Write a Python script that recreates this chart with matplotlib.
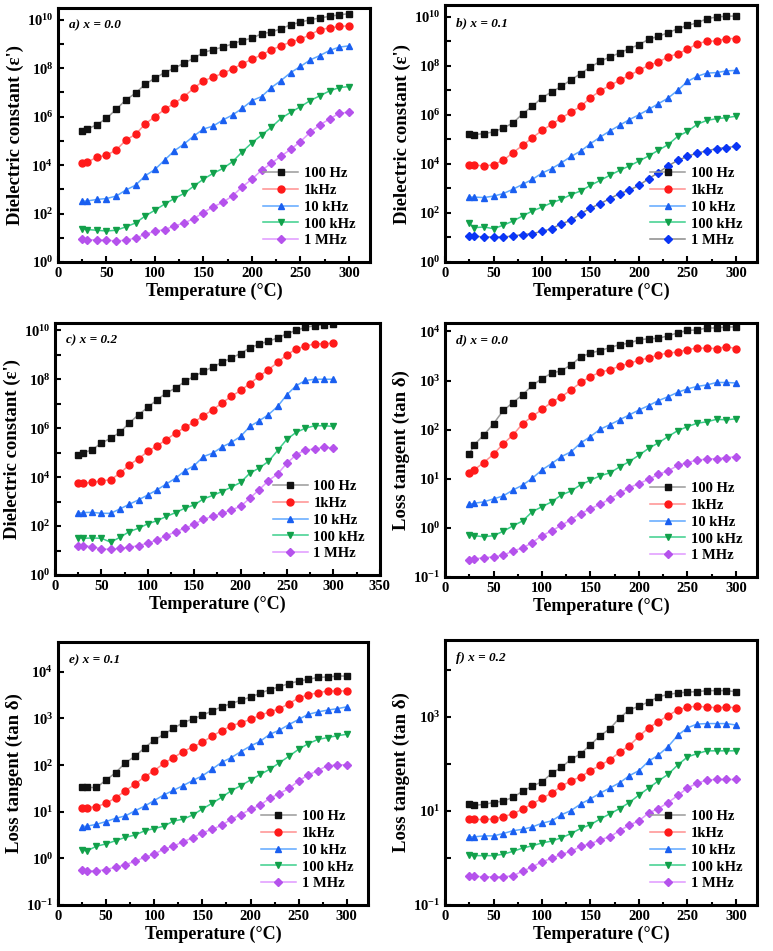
import numpy as np
import matplotlib
matplotlib.use("Agg")
import matplotlib.pyplot as plt
from matplotlib.ticker import MultipleLocator, NullLocator

plt.rcParams['font.family'] = ['Liberation Serif', 'DejaVu Serif']
plt.rcParams['font.weight'] = 'bold'
plt.rcParams['mathtext.fontset'] = 'custom'
plt.rcParams['mathtext.rm'] = 'Liberation Serif:bold'
plt.rcParams['mathtext.bf'] = 'Liberation Serif:bold'
plt.rcParams['mathtext.default'] = 'bf'

# temperatures (°C)
temp = [25, 30, 40, 50, 60, 70, 80, 90, 100, 110, 120, 130, 140, 150, 160,
        170, 180, 190, 200, 210, 220, 230, 240, 250, 260, 270, 280, 290, 300]

freq_labels = ['100 Hz', '1kHz', '10 kHz', '100 kHz', '1 MHz']

# values are log10
# a) dielectric constant, x = 0.0
eps_a_100hz = [5.41, 5.49, 5.66, 5.93, 6.30, 6.69, 6.97, 7.34, 7.59, 7.82, 8.00, 8.21, 8.41, 8.65, 8.76,
               8.87, 9.00, 9.14, 9.24, 9.42, 9.49, 9.63, 9.79, 9.90, 10.0, 10.07, 10.14, 10.20, 10.25]
eps_a_1khz = [4.07, 4.12, 4.32, 4.41, 4.62, 5.03, 5.27, 5.70, 6.00, 6.30, 6.55, 6.83, 7.17, 7.48, 7.63,
              7.79, 7.97, 8.18, 8.37, 8.55, 8.76, 8.92, 9.08, 9.20, 9.38, 9.59, 9.66, 9.72, 9.75]
eps_a_10khz = [2.51, 2.52, 2.58, 2.62, 2.72, 2.97, 3.17, 3.56, 3.82, 4.21, 4.59, 4.87, 5.20, 5.49, 5.61,
               5.86, 6.07, 6.34, 6.66, 6.83, 7.20, 7.49, 7.82, 8.07, 8.34, 8.52, 8.73, 8.87, 8.92]
eps_a_100khz = [1.38, 1.34, 1.31, 1.28, 1.31, 1.45, 1.61, 1.90, 2.14, 2.39, 2.62, 2.83, 3.13, 3.42, 3.66,
                3.86, 4.14, 4.55, 4.92, 5.24, 5.56, 5.93, 6.18, 6.41, 6.66, 6.86, 7.06, 7.20, 7.24]
eps_a_1mhz = [0.94, 0.92, 0.91, 0.90, 0.87, 0.90, 0.99, 1.14, 1.27, 1.34, 1.48, 1.61, 1.79, 2.04, 2.28,
              2.46, 2.73, 3.10, 3.42, 3.79, 4.07, 4.37, 4.65, 4.97, 5.35, 5.66, 5.90, 6.14, 6.18]

# b) dielectric constant, x = 0.1
eps_b_100hz = [5.24, 5.20, 5.24, 5.31, 5.47, 5.67, 6.05, 6.35, 6.71, 6.94, 7.17, 7.44, 7.69, 7.96, 8.19,
               8.37, 8.53, 8.71, 8.87, 9.09, 9.21, 9.36, 9.52, 9.66, 9.76, 9.93, 10.0, 10.03, 10.04]
eps_b_1khz = [3.97, 3.96, 3.92, 3.97, 4.15, 4.46, 4.76, 5.07, 5.37, 5.62, 5.88, 6.12, 6.35, 6.71, 6.98,
              7.21, 7.41, 7.62, 7.82, 8.03, 8.16, 8.37, 8.50, 8.68, 8.91, 9.01, 9.02, 9.12, 9.12]
eps_b_10khz = [2.65, 2.65, 2.63, 2.69, 2.79, 2.97, 3.17, 3.37, 3.63, 3.81, 4.05, 4.31, 4.53, 4.83, 5.10,
               5.35, 5.58, 5.81, 6.01, 6.23, 6.46, 6.69, 7.01, 7.37, 7.58, 7.71, 7.73, 7.80, 7.82]
eps_b_100khz = [1.59, 1.40, 1.43, 1.36, 1.50, 1.67, 1.88, 2.08, 2.24, 2.42, 2.56, 2.75, 2.90, 3.13, 3.33,
                3.54, 3.74, 3.92, 4.12, 4.33, 4.56, 4.79, 5.13, 5.33, 5.62, 5.78, 5.85, 5.89, 5.95]
eps_b_1mhz = [1.06, 1.06, 1.02, 1.02, 1.02, 1.06, 1.12, 1.16, 1.25, 1.36, 1.56, 1.70, 1.97, 2.20, 2.38,
              2.59, 2.79, 2.93, 3.13, 3.40, 3.65, 3.92, 4.15, 4.31, 4.45, 4.53, 4.63, 4.67, 4.72]

# c) dielectric constant, x = 0.2
eps_c_100hz = [4.91, 4.98, 5.12, 5.39, 5.59, 5.83, 6.21, 6.55, 6.85, 7.16, 7.44, 7.64, 7.91, 8.12, 8.32,
               8.50, 8.69, 8.87, 9.05, 9.28, 9.44, 9.55, 9.69, 9.86, 10.0, 10.12, 10.19, 10.23, 10.27]
eps_c_1khz = [3.75, 3.75, 3.78, 3.85, 3.89, 4.16, 4.50, 4.75, 5.05, 5.28, 5.53, 5.80, 6.03, 6.25, 6.51,
              6.75, 7.03, 7.30, 7.54, 7.82, 8.12, 8.39, 8.69, 9.00, 9.24, 9.35, 9.45, 9.45, 9.48]
eps_c_10khz = [2.52, 2.55, 2.56, 2.52, 2.52, 2.70, 2.89, 3.07, 3.27, 3.48, 3.72, 3.96, 4.26, 4.47, 4.84,
               4.98, 5.23, 5.42, 5.66, 6.07, 6.30, 6.55, 6.89, 7.37, 7.74, 7.95, 8.00, 8.00, 8.00]
eps_c_100khz = [1.53, 1.50, 1.51, 1.50, 1.34, 1.54, 1.77, 1.91, 2.09, 2.22, 2.39, 2.55, 2.73, 2.86, 3.11,
                3.25, 3.41, 3.59, 3.78, 4.16, 4.37, 4.64, 5.09, 5.55, 5.83, 6.00, 6.10, 6.10, 6.07]
eps_c_1mhz = [1.20, 1.20, 1.16, 1.06, 1.05, 1.09, 1.13, 1.20, 1.30, 1.43, 1.60, 1.77, 1.91, 2.07, 2.28,
              2.39, 2.52, 2.66, 2.80, 3.14, 3.48, 3.85, 4.13, 4.57, 4.91, 5.12, 5.14, 5.23, 5.18]

# d) loss tangent, x = 0.0
tan_d_100hz = [1.50, 1.69, 1.89, 2.12, 2.39, 2.55, 2.71, 2.90, 3.04, 3.15, 3.20, 3.32, 3.48, 3.56, 3.61,
               3.67, 3.73, 3.76, 3.83, 3.85, 3.86, 3.91, 3.97, 4.02, 4.03, 4.07, 4.07, 4.09, 4.09]
tan_d_1khz = [1.12, 1.18, 1.33, 1.50, 1.71, 1.89, 2.12, 2.27, 2.41, 2.56, 2.67, 2.81, 2.96, 3.08, 3.17,
              3.22, 3.29, 3.35, 3.41, 3.46, 3.52, 3.56, 3.58, 3.63, 3.66, 3.66, 3.65, 3.69, 3.65]
tan_d_10khz = [0.48, 0.50, 0.53, 0.59, 0.65, 0.77, 0.87, 1.01, 1.18, 1.31, 1.45, 1.55, 1.73, 1.86, 2.01,
               2.10, 2.20, 2.30, 2.40, 2.49, 2.59, 2.67, 2.76, 2.83, 2.88, 2.91, 2.96, 2.96, 2.95]
tan_d_100khz = [-0.15, -0.16, -0.18, -0.16, -0.07, 0.04, 0.14, 0.33, 0.43, 0.53, 0.67, 0.75, 0.88, 0.97, 1.06,
                1.12, 1.24, 1.35, 1.48, 1.62, 1.73, 1.86, 1.98, 2.06, 2.13, 2.16, 2.21, 2.20, 2.22]
tan_d_1mhz = [-0.65, -0.63, -0.61, -0.59, -0.56, -0.47, -0.41, -0.30, -0.16, -0.06, 0.05, 0.17, 0.29, 0.39, 0.48,
              0.59, 0.70, 0.82, 0.90, 0.99, 1.09, 1.16, 1.27, 1.33, 1.38, 1.40, 1.41, 1.43, 1.45]

# e) loss tangent, x = 0.1
tan_e_100hz = [1.52, 1.52, 1.52, 1.68, 1.84, 2.05, 2.19, 2.37, 2.54, 2.66, 2.79, 2.91, 2.99, 3.07, 3.16,
               3.25, 3.32, 3.39, 3.46, 3.54, 3.62, 3.68, 3.75, 3.80, 3.84, 3.88, 3.89, 3.91, 3.91]
tan_e_1khz = [1.09, 1.09, 1.11, 1.18, 1.30, 1.45, 1.59, 1.75, 1.88, 2.04, 2.16, 2.29, 2.39, 2.49, 2.62,
              2.74, 2.84, 2.91, 2.98, 3.07, 3.14, 3.21, 3.32, 3.44, 3.51, 3.55, 3.59, 3.59, 3.59]
tan_e_10khz = [0.68, 0.69, 0.73, 0.79, 0.86, 0.91, 1.02, 1.12, 1.24, 1.36, 1.46, 1.56, 1.67, 1.77, 1.91,
               2.06, 2.16, 2.29, 2.41, 2.51, 2.66, 2.75, 2.87, 2.98, 3.09, 3.14, 3.18, 3.21, 3.25]
tan_e_100khz = [0.18, 0.16, 0.26, 0.31, 0.38, 0.45, 0.50, 0.59, 0.64, 0.69, 0.80, 0.84, 0.93, 1.06, 1.18,
                1.31, 1.45, 1.56, 1.68, 1.80, 1.91, 2.05, 2.19, 2.34, 2.46, 2.55, 2.59, 2.63, 2.66]
tan_e_1mhz = [-0.26, -0.27, -0.27, -0.24, -0.19, -0.14, -0.06, 0.02, 0.09, 0.20, 0.26, 0.36, 0.44, 0.55, 0.62,
              0.71, 0.84, 0.94, 1.05, 1.14, 1.29, 1.39, 1.50, 1.66, 1.79, 1.88, 1.99, 2.00, 2.01]

# f) loss tangent, x = 0.2
tan_f_100hz = [1.14, 1.12, 1.14, 1.18, 1.21, 1.29, 1.42, 1.53, 1.62, 1.80, 1.93, 2.10, 2.22, 2.41, 2.60,
               2.75, 2.98, 3.15, 3.23, 3.32, 3.43, 3.48, 3.51, 3.53, 3.54, 3.56, 3.56, 3.56, 3.54]
tan_f_1khz = [0.82, 0.82, 0.82, 0.83, 0.88, 0.94, 1.04, 1.15, 1.27, 1.38, 1.53, 1.64, 1.73, 1.86, 1.97,
              2.09, 2.25, 2.39, 2.59, 2.77, 2.90, 3.03, 3.15, 3.21, 3.23, 3.21, 3.20, 3.21, 3.20]
tan_f_10khz = [0.45, 0.45, 0.47, 0.47, 0.52, 0.58, 0.61, 0.66, 0.74, 0.79, 0.92, 1.01, 1.15, 1.26, 1.38,
               1.49, 1.60, 1.75, 1.86, 2.06, 2.19, 2.37, 2.61, 2.77, 2.85, 2.86, 2.86, 2.86, 2.83]
tan_f_100khz = [0.06, 0.05, 0.05, 0.05, 0.08, 0.14, 0.21, 0.26, 0.32, 0.36, 0.43, 0.52, 0.63, 0.71, 0.83,
                0.94, 1.05, 1.18, 1.34, 1.49, 1.64, 1.78, 1.98, 2.15, 2.22, 2.28, 2.28, 2.28, 2.28]
tan_f_1mhz = [-0.38, -0.39, -0.40, -0.40, -0.40, -0.38, -0.28, -0.19, -0.08, -0.01, 0.08, 0.14, 0.25, 0.30, 0.39,
              0.45, 0.58, 0.70, 0.79, 0.96, 1.05, 1.18, 1.33, 1.49, 1.59, 1.66, 1.67, 1.67, 1.67]

markers = ['s', 'o', '^', 'v', 'D']
marker_colors = ['#111111', '#ff1a1a', '#1a5ff0', '#12a04a', '#b552ec']
line_colors = ['#9a9a9a', '#ff9090', '#5fa8ff', '#3ccf8c', '#e098ff']
msizes = [4.2, 5.0, 5.0, 5.0, 4.2]

fig = plt.figure(figsize=(7.73, 9.51), dpi=100)


def panel(rect, series, tag, ylabel, ylim, decades, labeled, xmax=322,
          mcols=marker_colors, lcols=line_colors):
    ax = fig.add_axes(rect)
    for i, s in enumerate(series):
        ax.plot(temp, np.power(10.0, s), marker=markers[i], color=lcols[i],
                mfc=mcols[i], mec=mcols[i], ms=msizes[i], lw=1.1,
                label=freq_labels[i])
    ax.set_yscale('log')
    ax.set_xlim(0, xmax)
    ax.set_ylim(*ylim)
    ax.set_yticks([10.0 ** d for d in decades])
    ax.set_yticklabels(['$10^{%d}$' % d if d in labeled else '' for d in decades])
    ax.yaxis.set_minor_locator(NullLocator())
    ax.xaxis.set_major_locator(MultipleLocator(50))
    ax.xaxis.set_minor_locator(MultipleLocator(25))
    ax.tick_params(which='both', direction='in', width=1.5, labelsize=10.5)
    ax.tick_params(which='major', length=4)
    ax.tick_params(which='minor', length=2.5)
    for sp in ax.spines.values():
        sp.set_linewidth(2.2)
    for lab in ax.get_xticklabels():
        lab.set_fontweight('bold')
    ax.set_xlabel('Temperature (°C)', fontsize=13, fontweight='bold', labelpad=2)
    ax.set_ylabel(ylabel, fontsize=13.5, fontweight='bold', labelpad=2)
    ax.text(0.035, 0.955, tag, transform=ax.transAxes, fontsize=9.5,
            fontweight='bold', style='italic', va='top', ha='left')
    leg = ax.legend(loc='lower right', frameon=False, fontsize=10.5,
                    handlelength=2.4, labelspacing=0.25, handletextpad=0.4,
                    borderaxespad=0.6)
    for t in leg.get_texts():
        t.set_fontweight('bold')
    return ax


eps_label = "Dielectric constant (ε')"
tan_label = 'Loss tangent (tan δ)'
eps_decades = list(range(0, 11))
eps_labeled = [0, 2, 4, 6, 8, 10]

panel([0.075, 0.7245, 0.404, 0.267],
      [eps_a_100hz, eps_a_1khz, eps_a_10khz, eps_a_100khz, eps_a_1mhz],
      'a) x = 0.0', eps_label, (1, 10 ** 10.48), eps_decades, eps_labeled)

b_marker_colors = marker_colors[:4] + ['#0a35f5']
b_line_colors = line_colors[:4] + ['#8a8a8a']
panel([0.5757, 0.7245, 0.404, 0.270],
      [eps_b_100hz, eps_b_1khz, eps_b_10khz, eps_b_100khz, eps_b_1mhz],
      'b) x = 0.1', eps_label, (1, 10 ** 10.48), eps_decades, eps_labeled,
      mcols=b_marker_colors, lcols=b_line_colors)

panel([0.0712, 0.3954, 0.420, 0.265],
      [eps_c_100hz, eps_c_1khz, eps_c_10khz, eps_c_100khz, eps_c_1mhz],
      'c) x = 0.2', eps_label, (1, 10 ** 10.3), eps_decades, eps_labeled, xmax=350)

panel([0.5757, 0.3933, 0.404, 0.267],
      [tan_d_100hz, tan_d_1khz, tan_d_10khz, tan_d_100khz, tan_d_1mhz],
      'd) x = 0.0', tan_label, (0.1, 10 ** 4.17), list(range(-1, 5)), list(range(-1, 5)))

panel([0.075, 0.0484, 0.401, 0.2765],
      [tan_e_100hz, tan_e_1khz, tan_e_10khz, tan_e_100khz, tan_e_1mhz],
      'e) x = 0.1', tan_label, (0.1, 10 ** 4.64), list(range(-1, 5)), list(range(-1, 5)))

panel([0.5757, 0.0484, 0.404, 0.2787],
      [tan_f_100hz, tan_f_1khz, tan_f_10khz, tan_f_100khz, tan_f_1mhz],
      'f) x = 0.2', tan_label, (0.1, 10 ** 4.64), list(range(-1, 5)), [-1, 1, 3])

fig.savefig('out.png', dpi=100)
